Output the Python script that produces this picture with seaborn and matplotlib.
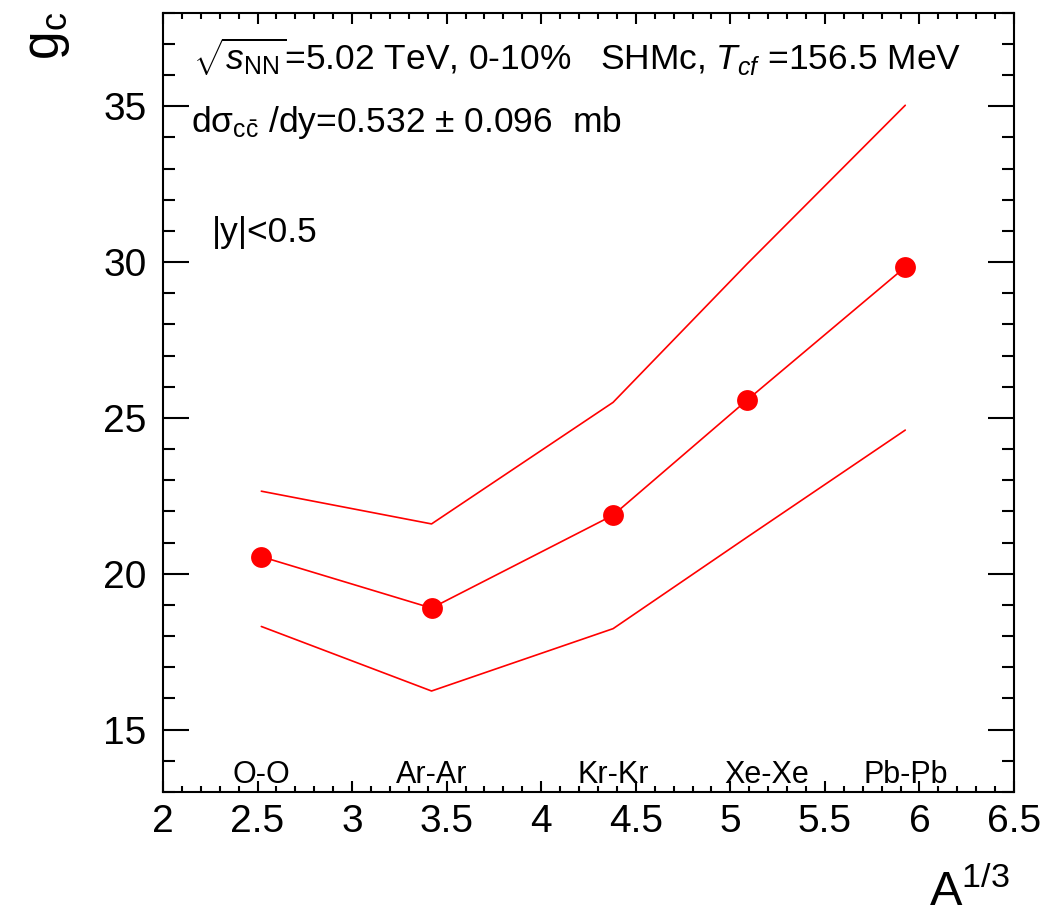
import matplotlib
matplotlib.use("Agg")
import matplotlib.pyplot as plt
from matplotlib.ticker import MultipleLocator
import seaborn as sns
import pandas as pd

# ---- data ----
systems = ['O-O', 'Ar-Ar', 'Kr-Kr', 'Xe-Xe', 'Pb-Pb']
a_third = [2.52, 3.42, 4.38, 5.09, 5.925]
gc_central = [20.55, 18.90, 21.88, 25.58, 29.84]
gc_upper = [22.65, 21.60, 25.50, 29.95, 35.03]
gc_lower = [18.31, 16.24, 18.24, 21.18, 24.61]

sns.set_theme(style="ticks")
plt.rcParams['font.family'] = ['Liberation Sans', 'DejaVu Sans']
plt.rcParams['mathtext.fontset'] = 'custom'
plt.rcParams['mathtext.rm'] = 'Liberation Sans'
plt.rcParams['mathtext.it'] = 'Liberation Sans:italic'
plt.rcParams['mathtext.bf'] = 'Liberation Sans:bold'
plt.rcParams['mathtext.sf'] = 'Liberation Sans'
for k in ['text.color', 'axes.labelcolor', 'xtick.color', 'ytick.color',
          'axes.edgecolor']:
    plt.rcParams[k] = 'black'

df = pd.DataFrame({'A13': a_third, 'central': gc_central,
                   'upper': gc_upper, 'lower': gc_lower, 'sys': systems})

fig = plt.figure(figsize=(10.56, 9.16), dpi=100)
ax = fig.add_axes([163/1056, 1-792/916, (1014-163)/1056, (792-12.7)/916])

red = '#ff0000'
sns.lineplot(data=df, x='A13', y='upper', ax=ax, color=red, lw=1.2,
             estimator=None, sort=False)
sns.lineplot(data=df, x='A13', y='lower', ax=ax, color=red, lw=1.2,
             estimator=None, sort=False)
sns.lineplot(data=df, x='A13', y='central', ax=ax, color=red, lw=1.2,
             estimator=None, sort=False, marker='o', markersize=15,
             markeredgewidth=0, markerfacecolor=red)

ax.set_xlim(2, 6.5)
ax.set_ylim(13, 38)
ax.set_xlabel('')
ax.set_ylabel('')
ax.xaxis.set_major_locator(MultipleLocator(0.5))
ax.xaxis.set_minor_locator(MultipleLocator(0.1))
ax.yaxis.set_major_locator(MultipleLocator(5))
ax.yaxis.set_minor_locator(MultipleLocator(1))
ax.set_xticks([2, 2.5, 3, 3.5, 4, 4.5, 5, 5.5, 6, 6.5])
ax.set_xticklabels(['2', '2.5', '3', '3.5', '4', '4.5', '5', '5.5', '6', '6.5'])
ax.set_yticks([15, 20, 25, 30, 35])
ax.set_yticklabels(['15', '20', '25', '30', '35'])

ax.tick_params(axis='both', which='both', direction='in', top=True, right=True,
               colors='black', width=1.5)
ax.tick_params(axis='x', which='major', length=8, labelsize=28, pad=9)
ax.tick_params(axis='x', which='minor', length=4)
ax.tick_params(axis='y', which='major', length=18.5, labelsize=28, pad=12)
ax.tick_params(axis='y', which='minor', length=8.5)
for s in ax.spines.values():
    s.set_linewidth(1.5)
    s.set_color('black')

# system labels
label_shift = {'Xe-Xe': 0.1}
for name, xv in zip(systems, a_third):
    ax.text(xv + label_shift.get(name, 0.0), 13.3, name, ha='center',
            va='baseline', fontsize=22, color='black')

ax.text(2.16, 36.16,
        r'$\sqrt{s_{\rm NN}}$=5.02 TeV, 0-10%   SHMc, $T_{cf}$ =156.5 MeV',
        fontsize=25.5, va='baseline', ha='left', color='black')
ax.text(2.15, 34.17, 'dσ' + r'$_{\rm c\bar{c}}$ /dy=0.532 $\pm$ 0.096  mb',
        fontsize=25.5, va='baseline', ha='left', color='black')
ax.text(2.26, 30.64, '|y|<0.5', fontsize=25.5, va='baseline', ha='left',
        color='black')

fig.text(47/1056, 1-12/916, r'$\rm g_c$', rotation=90, fontsize=37,
         ha='center', va='top', color='black')
fig.text(1010/1056, 1-906/916, r'$\rm A^{1/3}$', fontsize=35,
         ha='right', va='baseline', color='black')

fig.savefig('out.png', dpi=100)
